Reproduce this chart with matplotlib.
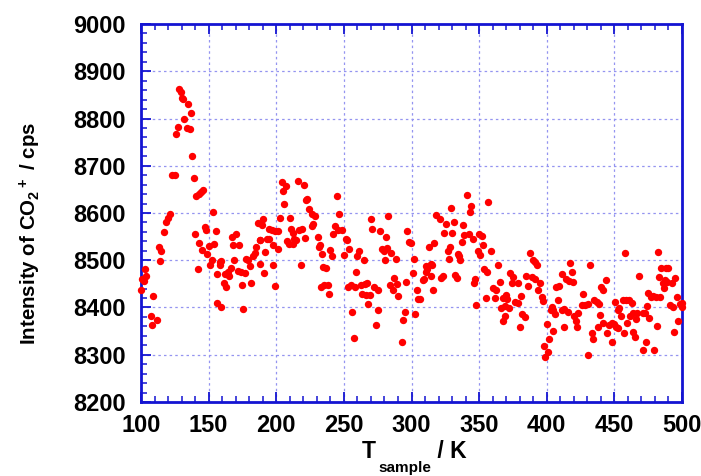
import matplotlib
matplotlib.use("Agg")
import matplotlib.pyplot as plt
from matplotlib.ticker import MultipleLocator

plt.rcParams['font.family'] = ['Liberation Sans', 'DejaVu Sans']
plt.rcParams['font.weight'] = 'bold'
plt.rcParams['mathtext.default'] = 'regular'

x_ticks = [100, 150, 200, 250, 300, 350, 400, 450, 500]
y_ticks = [8200, 8300, 8400, 8500, 8600, 8700, 8800, 8900, 9000]
x_label_main = 'T'
x_label_sub = 'sample'
x_label_unit = ' / K'
y_label = 'Intensity of CO$_2$$^+$ / cps'

temperature_K = [
    128.1, 129.3, 130.1, 131.1, 135, 137, 132, 127.1, 126.1, 133.8, 136, 138, 122.7, 124.9, 139,
    141, 142.6, 144.4, 146.1, 153.4, 121.2, 119.7, 118.2, 116.8, 113.1, 115.1, 114.1, 147.1, 148.4,
    140.2, 155.4, 143.1, 145.1, 150, 154, 149, 152.2, 151, 142.1, 158.5, 159.4, 158.2, 156, 161,
    163.2, 162, 164, 165.2, 166.4, 168.8, 167.2, 170.4, 168, 172.2, 171.4, 173.9, 176.6, 175, 181.6,
    178, 179.4, 180.8, 182.5, 184.2, 184.7, 186.2, 187.7, 156.3, 159.3, 175.6, 100, 102.9, 103.9,
    101, 102.2, 109, 107.2, 112.1, 108.1,
    204.0, 207.0, 205.3, 216.1, 220.3, 222.5, 221.8, 206, 224, 226.7, 228.9, 202.8, 209.9, 190,
    189.2, 194.4, 196.6, 199.1, 201.6, 211.2, 212.2, 217.1, 219.1, 227.4, 226.2, 188, 192.9, 194.9,
    208.2, 213.4, 214.4, 209.7, 212.2, 221, 230.9, 244.9, 246.7, 243.2, 245.7, 248.6, 242.2, 251.3,
    252.1, 231.4, 232.6, 197.4, 201.1, 191.9, 233.8, 239.8, 241, 254, 250.4, 261, 260, 265.1, 270.1,
    271, 277, 282.9, 280.9, 278.2, 279.4, 281.9, 280.2, 188, 197.9, 191.2, 218.1, 234.3, 237, 259.2,
    199.1, 232.9, 235.6, 238, 239, 253.1, 255, 258, 262.4, 265.4, 266.9, 272.3, 275.5, 263.7, 266.4,
    269.3, 268.1, 256.3, 275, 274, 257.3, 283.9,
    284.9, 286.8, 286.1, 288.8, 289.5, 290, 296.2, 295, 294, 293.2, 296.9, 298.1, 299.4, 301.8,
    300.9, 303.8, 305, 306, 302.6, 308.3, 309.5, 310.5, 311.7, 310.7, 314.2, 315.2, 313.2, 316.9,
    314.2, 316.1, 322.1, 323.1, 318.1, 321.1, 325.3, 324, 329.9, 328.9, 331.2, 338.3, 326.7, 328.2,
    327.5, 334.1, 335.1, 336.1, 331.9, 333.4, 337.1, 338.8, 342.3, 345.2, 341.3, 344, 343.3, 356.8,
    349.7, 352.4, 353.1, 358.8, 349.2, 350.6, 353.8, 355.8, 347, 346.2, 347.9, 364.2, 355.1, 360.3,
    362.7, 362, 365.2, 372.8, 374.8, 374.1, 379, 369.9, 370.9, 367.9, 366.2, 369.1, 372.1, 369.1,
    367.4, 376.3, 378.5, 381.2, 381.9, 383.7, 380.2, 384.7, 385.9,
    387.6, 389.6, 391.3, 393, 388.8, 391.3, 395, 393.8, 396.2, 397.5, 399.9, 401.9, 398, 400.7,
    398.7, 403.6, 404.9, 402.9, 406.1, 404.9, 408.1, 406.8, 409.1, 411.3, 414.2, 416.2, 419.1, 417.2,
    418.4, 411, 413, 416, 413, 420.1, 421.4, 422.1, 423.3, 427, 432, 425.8, 428.3, 430.7, 430.2,
    434.9, 436.9, 438.6, 433.2, 434.4, 439.4, 441.3, 437.6, 439.9, 441.8, 443.8, 450.2, 453.7, 452.9,
    454.9, 457.8, 456.6, 458.6, 460.6, 462.8, 446.3, 448, 449.7, 451.2, 452.7, 444.8, 448, 457.1,
    461.5, 464, 466.5, 466, 459.6, 463.5, 465.2, 468, 470.9, 472.6, 473.4, 470.9, 473.9, 475.1,
    476.8, 478.8, 480.8, 483.7, 475.8, 479.3, 481.3, 482, 483.2, 484.5, 488.2, 489.9, 486.2, 487.4,
    486.7, 488.7, 492.3, 494.8, 496, 491.1, 493.1, 497.3, 494, 498.5, 499.7, 500.3,
]

intensity_cps = [
    8862, 8857, 8843, 8842, 8831, 8811, 8800, 8781, 8768, 8780, 8778, 8721, 8680, 8680, 8675,
    8635, 8640, 8645, 8649, 8603, 8597, 8589, 8582, 8560, 8527, 8520, 8498, 8571, 8565,
    8555, 8561, 8536, 8521, 8531, 8534, 8514, 8500, 8490, 8482, 8497, 8498, 8490, 8471, 8452,
    8444, 8470, 8475, 8466, 8483, 8500, 8550, 8556, 8533, 8533, 8478, 8475, 8474, 8448, 8451,
    8502, 8500, 8488, 8510, 8515, 8528, 8578, 8543, 8409, 8401, 8397, 8438, 8481, 8467,
    8460, 8456, 8424, 8382, 8374, 8362,
    8665, 8657, 8646, 8668, 8659, 8630, 8627, 8619, 8608, 8598, 8593, 8589, 8590, 8587,
    8575, 8566, 8563, 8561, 8561, 8567, 8557, 8565, 8567, 8577, 8572, 8543, 8544, 8546,
    8541, 8546, 8543, 8534, 8534, 8547, 8550, 8637, 8597, 8572, 8563, 8563, 8555, 8546,
    8543, 8529, 8532, 8533, 8524, 8518, 8513, 8522, 8510, 8524, 8511, 8520, 8509, 8500, 8587,
    8566, 8562, 8594, 8549, 8524, 8520, 8525, 8501, 8493, 8491, 8474, 8491, 8486, 8483, 8475,
    8446, 8444, 8447, 8448, 8429, 8443, 8447, 8443, 8447, 8449, 8451, 8443, 8436, 8429, 8427,
    8427, 8407, 8390, 8395, 8362, 8335, 8448,
    8516, 8462, 8436, 8503, 8450, 8425, 8455, 8390, 8374, 8326, 8562, 8539, 8536, 8502,
    8472, 8436, 8417, 8417, 8387, 8458, 8460, 8476, 8482, 8488, 8492, 8491, 8529, 8536,
    8467, 8437, 8462, 8467, 8595, 8588, 8577, 8558, 8557, 8611, 8582, 8574, 8520, 8529,
    8503, 8514, 8508, 8501, 8469, 8463, 8539, 8553, 8555, 8544, 8639, 8615, 8602, 8623,
    8556, 8551, 8532, 8520, 8519, 8512, 8481, 8476, 8460, 8451, 8405, 8490, 8421, 8441,
    8437, 8421, 8454, 8472, 8465, 8451, 8451, 8426, 8419, 8420, 8398, 8403, 8398, 8383,
    8372, 8412, 8409, 8425, 8386, 8379, 8358, 8467, 8446,
    8515, 8500, 8497, 8489, 8464, 8460, 8451, 8437, 8423, 8414, 8366, 8334, 8318, 8306,
    8296, 8402, 8395, 8395, 8386, 8351, 8416, 8443, 8445, 8471, 8460, 8456, 8453, 8495,
    8476, 8395, 8396, 8390, 8358, 8381, 8372, 8359, 8388, 8429, 8491, 8405, 8405, 8407, 8299,
    8416, 8412, 8407, 8347, 8333, 8384, 8368, 8358, 8443, 8436, 8458, 8411, 8398, 8395,
    8382, 8515, 8416, 8416, 8416, 8409, 8363, 8368, 8366, 8359, 8356, 8347, 8328, 8345,
    8381, 8388, 8388, 8375, 8368, 8349, 8338, 8467, 8389, 8388, 8326, 8311, 8403, 8430,
    8423, 8424, 8422, 8422, 8377, 8311, 8361, 8518, 8465, 8483, 8483, 8483, 8451, 8458,
    8441, 8455, 8451, 8462, 8423, 8405, 8400, 8372, 8349, 8407, 8400, 8409,
]

W, H = 701, 476
blue = '#1414d2'
fig = plt.figure(figsize=(W / 100, H / 100), dpi=100)
ax = fig.add_axes([141/W, 1 - 402/H, (682 - 141)/W, (402 - 24)/H])

ax.plot(temperature_K, intensity_cps, 'o', color='#ff0000', ms=5.3, mew=0,
        clip_on=False, zorder=3)

ax.set_xlim(100, 500)
ax.set_ylim(8200, 9000)
ax.set_xticks(x_ticks)
ax.set_yticks(y_ticks)
ax.xaxis.set_minor_locator(MultipleLocator(10))
ax.yaxis.set_minor_locator(MultipleLocator(20))

for s in ax.spines.values():
    s.set_color(blue)
    s.set_linewidth(2.0)

ax.tick_params(axis='both', which='both', direction='in', color=blue,
               top=True, right=False, labelsize=17, labelcolor='black')
ax.tick_params(axis='both', which='major', length=7, width=1.3)
ax.tick_params(axis='both', which='minor', length=4, width=1.1)
ax.tick_params(axis='y', which='both', pad=11)
ax.tick_params(axis='x', which='both', pad=9)
for lab in ax.get_xticklabels() + ax.get_yticklabels():
    lab.set_fontweight('bold')

ax.grid(True, which='major', color='#9494f0', linestyle=(0, (2, 2.5)), linewidth=0.9)
ax.set_axisbelow(True)

ax.set_ylabel(y_label, fontsize=14.8, fontweight='bold', labelpad=22, y=0.445)

# x label built from pieces so the subscript sits fully below the baseline
fig.canvas.draw()
r = fig.canvas.get_renderer()
main_fs, sub_fs = 16.5, 11
t_main = fig.text(0, 0, x_label_main, fontsize=main_fs, fontweight='bold')
t_sub = fig.text(0, 0, x_label_sub, fontsize=sub_fs, fontweight='bold')
t_unit = fig.text(0, 0, x_label_unit, fontsize=main_fs, fontweight='bold')
w_main = t_main.get_window_extent(r).width
w_sub = t_sub.get_window_extent(r).width
w_unit = t_unit.get_window_extent(r).width
total = w_main + 2 + w_sub + w_unit
cx = (141 + 682) / 2 + 3
x0 = cx - total / 2
base_main = H - 458
base_sub = H - 472
t_main.set_position((x0 / W, base_main / H))
t_main.set_va('baseline')
t_sub.set_position(((x0 + w_main + 2) / W, base_sub / H))
t_sub.set_va('baseline')
t_unit.set_position(((x0 + w_main + 2 + w_sub) / W, base_main / H))
t_unit.set_va('baseline')

fig.savefig('out.png', dpi=100)
